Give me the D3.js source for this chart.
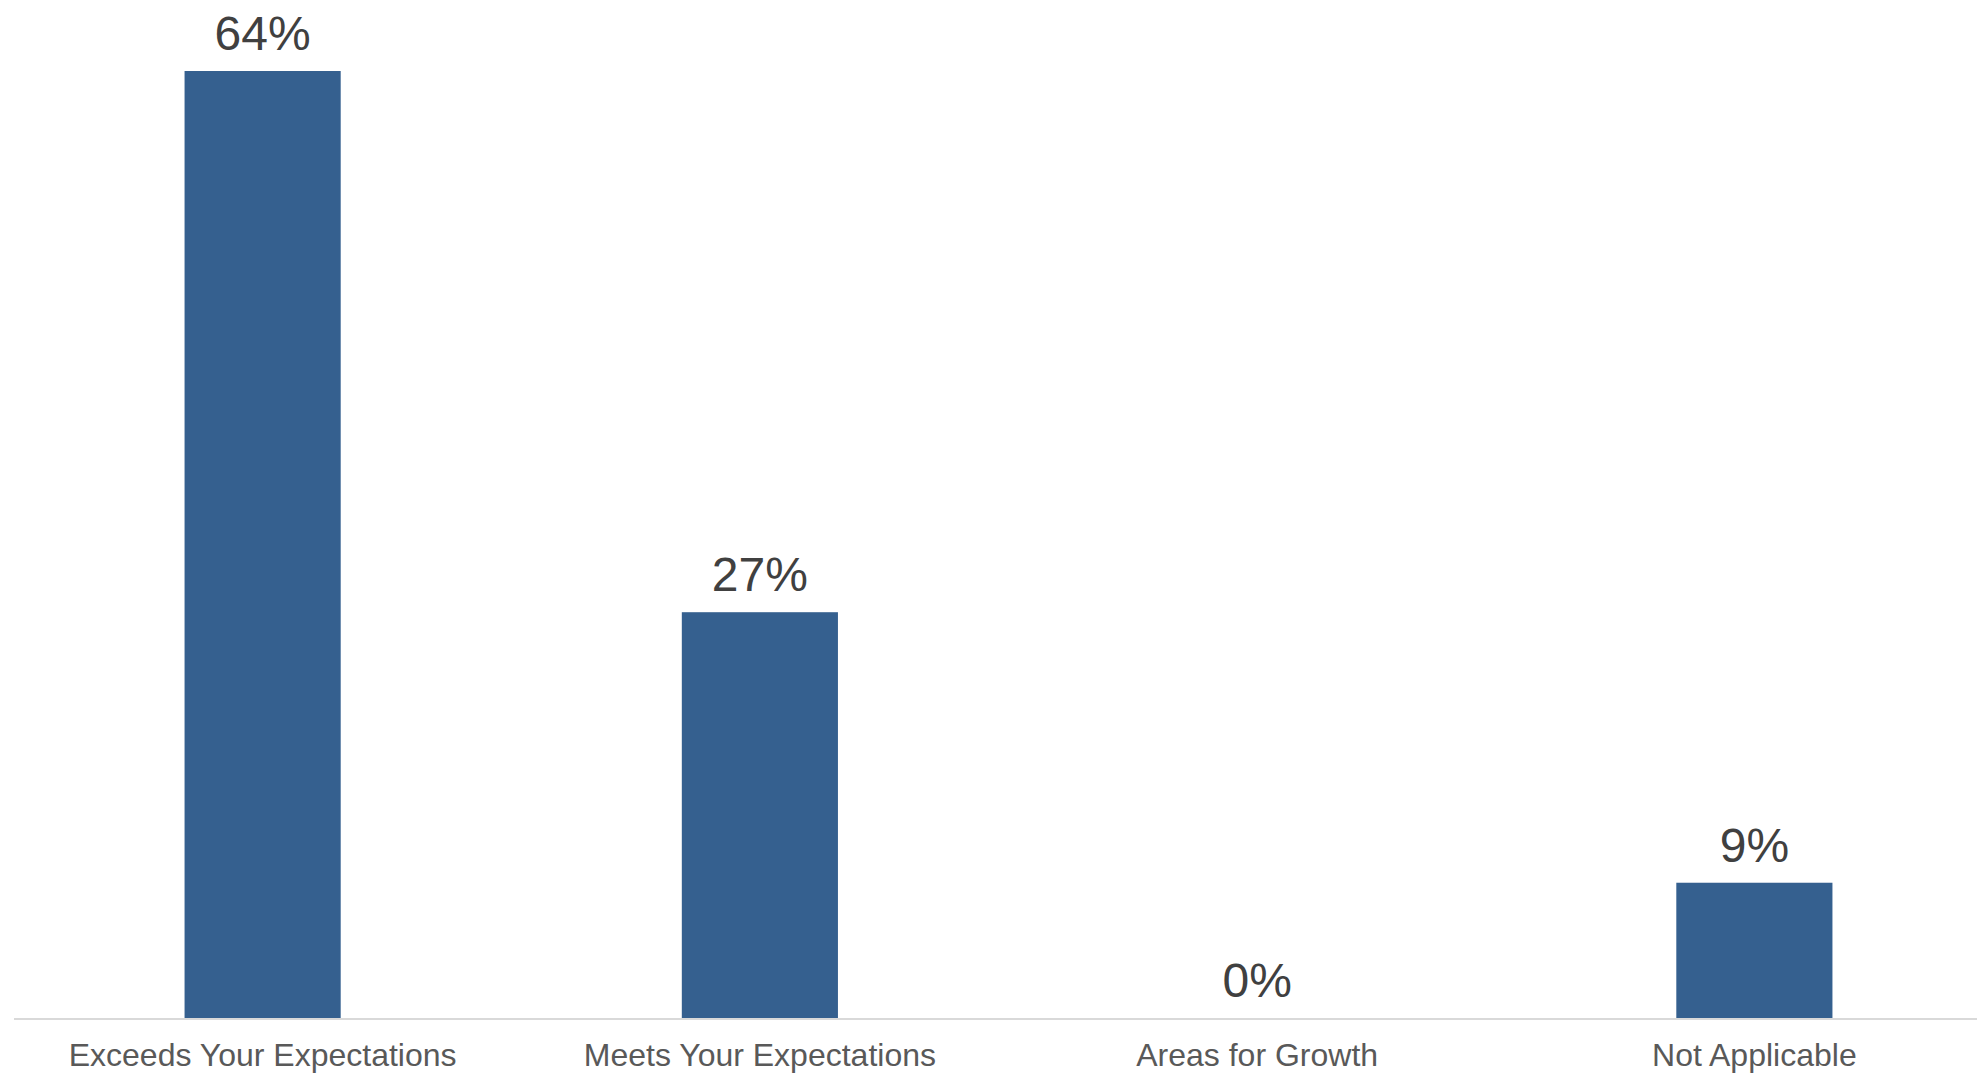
<!DOCTYPE html>
<html>
<head>
<meta charset="utf-8">
<script src="https://cdn.jsdelivr.net/npm/d3@7"></script>
<style>
  html, body { margin: 0; padding: 0; background: #ffffff; }
  svg { display: block; }
</style>
</head>
<body>
<div id="chart"></div>
<script>
// Data
var categories = ["Exceeds Your Expectations", "Meets Your Expectations", "Areas for Growth", "Not Applicable"];
var shares = [0.6364, 0.2727, 0, 0.0909];
var valueLabels = ["64%", "27%", "0%", "9%"];

var width = 1977, height = 1076;
var baseY = 1018, topY = 71;

var svg = d3.select("#chart")
    .append("svg")
    .attr("width", width)
    .attr("height", height);

var xScale = d3.scaleBand()
    .domain(d3.range(categories.length))
    .range([14, 2003])
    .paddingInner(0.686)
    .paddingOuter(0.343);

var yScale = d3.scaleLinear()
    .domain([0, d3.max(shares)])
    .range([baseY, topY]);

// bars
svg.selectAll("rect.bar")
    .data(shares)
    .enter()
    .append("rect")
    .attr("class", "bar")
    .attr("x", function(d, i) { return xScale(i); })
    .attr("y", function(d) { return yScale(d); })
    .attr("width", xScale.bandwidth())
    .attr("height", function(d) { return baseY - yScale(d); })
    .attr("fill", "#35608f");

// baseline axis
var xAxis = d3.axisBottom(xScale)
    .tickSize(0)
    .tickFormat(function(d) { return categories[d]; });

var axisG = svg.append("g")
    .attr("transform", "translate(0," + (baseY + 1) + ")")
    .call(xAxis);

axisG.select(".domain").remove();
axisG.append("line")
    .attr("x1", 14)
    .attr("x2", width)
    .attr("stroke", "#d9d9d9")
    .attr("stroke-width", 2);

axisG.selectAll(".tick text")
    .attr("dy", 0)
    .attr("y", 47)
    .style("font-family", "'Liberation Sans', Arial, sans-serif")
    .style("font-size", "32px")
    .style("fill", "#595959");

// value labels
svg.selectAll("text.value")
    .data(shares)
    .enter()
    .append("text")
    .attr("class", "value")
    .attr("x", function(d, i) { return xScale(i) + xScale.bandwidth() / 2; })
    .attr("y", function(d) { return yScale(d) - 21; })
    .attr("text-anchor", "middle")
    .style("font-family", "'Liberation Sans', Arial, sans-serif")
    .style("font-size", "48px")
    .style("fill", "#404040")
    .text(function(d, i) { return valueLabels[i]; });
</script>
</body>
</html>
